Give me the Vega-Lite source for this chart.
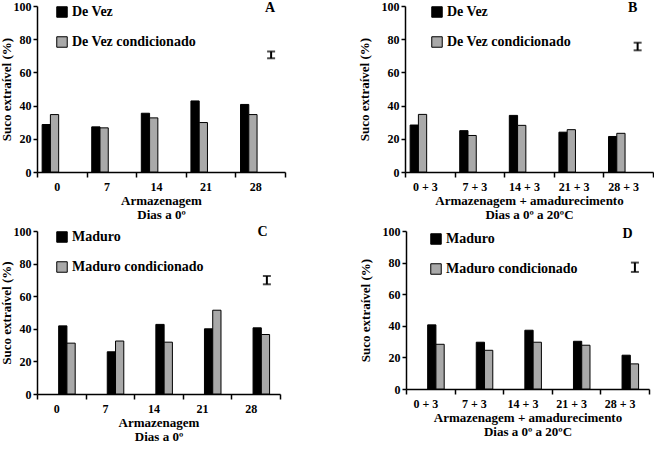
{
  "$schema": "https://vega.github.io/schema/vega-lite/v6.json",
  "padding": {"left": 0, "top": 0, "right": 0, "bottom": 0},
  "background": "white",
  "config": {
    "font": "Liberation Serif, Times New Roman, serif",
    "view": {"stroke": null},
    "axis": {
      "labelFont": "Liberation Serif, Times New Roman, serif", "labelFontWeight": "bold", "labelFontSize": 12, "labelColor": "black", "labelOverlap": false,
      "titleFont": "Liberation Serif, Times New Roman, serif", "titleFontWeight": "bold", "titleFontSize": 13, "titleColor": "black",
      "domainColor": "black", "tickColor": "black", "domainWidth": 1.5, "tickWidth": 1.5, "grid": false
    },
    "axisX": {"titleLineHeight": 14},
    "axisY": {"labelOverlap": false, "tickSize": 4, "labelPadding": 2},
    "axisQuantitative": {"labelOverlap": false},
    "legend": {
      "labelFont": "Liberation Serif, Times New Roman, serif", "labelFontWeight": "bold", "labelFontSize": 14, "labelColor": "black"
    },
    "text": {"font": "Liberation Serif, Times New Roman, serif"}
  },
  "spacing": 3,
  "resolve": {"scale": {"color": "independent"}, "legend": {"color": "independent"}},
  "vconcat": [
    {
      "hconcat": [
        {
          "width": 248, "height": 166,
          "layer": [
            {
              "data": {"values": [
                {"cat": "0", "series": "De Vez", "value": 28.6},
                {"cat": "0", "series": "De Vez condicionado", "value": 34.6},
                {"cat": "7", "series": "De Vez", "value": 27.2},
                {"cat": "7", "series": "De Vez condicionado", "value": 26.6},
                {"cat": "14", "series": "De Vez", "value": 35.4},
                {"cat": "14", "series": "De Vez condicionado", "value": 32.6},
                {"cat": "21", "series": "De Vez", "value": 42.8},
                {"cat": "21", "series": "De Vez condicionado", "value": 29.8},
                {"cat": "28", "series": "De Vez", "value": 40.7},
                {"cat": "28", "series": "De Vez condicionado", "value": 34.6}
              ]},
              "mark": {"type": "bar", "stroke": "black", "strokeWidth": 1},
              "encoding": {
                "x": {"field": "cat", "type": "nominal", "sort": null, "scale": {"paddingInner": 0, "paddingOuter": 0},
                  "axis": {"title": ["Armazenagem", "Dias a 0º"], "labelAngle": 0, "tickBand": "extent", "labelOffset": -5, "tickSize": 5, "labelPadding": 4, "titlePadding": 2}},
                "xOffset": {"field": "series", "type": "nominal", "sort": null, "scale": {"paddingInner": 0, "paddingOuter": 1.19, "align": 0.31}},
                "y": {"field": "value", "type": "quantitative", "scale": {"domain": [0, 100]},
                  "axis": {"title": "Suco extraível (%)", "values": [0, 20, 40, 60, 80, 100], "labelOverlap": false, "titlePadding": 0}},
                "color": {"field": "series", "type": "nominal", "sort": null, "scale": {"range": ["black", "#a9a9a9"]},
                  "legend": {"orient": "none", "legendX": 18, "legendY": -1, "title": null, "symbolType": "square", "symbolSize": 110, "symbolStrokeColor": "black", "symbolStrokeWidth": 1, "rowPadding": 14, "labelOffset": 3}}
              }
            },
            {
              "data": {"values": [{"lx": 4.72, "lo": 68.5, "hi": 72.6, "tx": 4.70, "ty": 98.8, "lab": "A"}]},
              "layer": [
                {"mark": {"type": "rule", "color": "black", "strokeWidth": 2},
                 "encoding": {"x": {"field": "lx", "type": "quantitative", "scale": {"domain": [0, 5]}, "axis": null}, "y": {"field": "lo", "type": "quantitative", "axis": {"title": "Suco extraível (%)", "values": [0, 20, 40, 60, 80, 100], "labelOverlap": false, "titlePadding": 0}}, "y2": {"field": "hi"}}},
                {"mark": {"type": "tick", "orient": "horizontal", "size": 8, "thickness": 2, "color": "black"},
                 "encoding": {"x": {"field": "lx", "type": "quantitative", "scale": {"domain": [0, 5]}, "axis": null}, "y": {"field": "lo", "type": "quantitative", "axis": {"title": "Suco extraível (%)", "values": [0, 20, 40, 60, 80, 100], "labelOverlap": false, "titlePadding": 0}}}},
                {"mark": {"type": "tick", "orient": "horizontal", "size": 8, "thickness": 2, "color": "black"},
                 "encoding": {"x": {"field": "lx", "type": "quantitative", "scale": {"domain": [0, 5]}, "axis": null}, "y": {"field": "hi", "type": "quantitative", "axis": {"title": "Suco extraível (%)", "values": [0, 20, 40, 60, 80, 100], "labelOverlap": false, "titlePadding": 0}}}},
                {"mark": {"type": "text", "fontSize": 14, "fontWeight": "bold", "color": "black"},
                 "encoding": {"x": {"field": "tx", "type": "quantitative", "scale": {"domain": [0, 5]}, "axis": null}, "y": {"field": "ty", "type": "quantitative", "axis": {"title": "Suco extraível (%)", "values": [0, 20, 40, 60, 80, 100], "labelOverlap": false, "titlePadding": 0}}, "text": {"field": "lab"}}}
              ],
              "resolve": {"scale": {"x": "independent"}}
            }
          ],
          "resolve": {"scale": {"x": "independent"}}
        },
        {
          "width": 248, "height": 166,
          "layer": [
            {
              "data": {"values": [
                {"cat": "0 + 3", "series": "De Vez", "value": 28.3},
                {"cat": "0 + 3", "series": "De Vez condicionado", "value": 34.7},
                {"cat": "7 + 3", "series": "De Vez", "value": 24.9},
                {"cat": "7 + 3", "series": "De Vez condicionado", "value": 22.0},
                {"cat": "14 + 3", "series": "De Vez", "value": 34.1},
                {"cat": "14 + 3", "series": "De Vez condicionado", "value": 28.1},
                {"cat": "21 + 3", "series": "De Vez", "value": 24.0},
                {"cat": "21 + 3", "series": "De Vez condicionado", "value": 25.5},
                {"cat": "28 + 3", "series": "De Vez", "value": 21.4},
                {"cat": "28 + 3", "series": "De Vez condicionado", "value": 23.3}
              ]},
              "mark": {"type": "bar", "stroke": "black", "strokeWidth": 1},
              "encoding": {
                "x": {"field": "cat", "type": "nominal", "sort": null, "scale": {"paddingInner": 0, "paddingOuter": 0},
                  "axis": {"title": ["Armazenagem + amadurecimento", "Dias a 0º a 20ºC"], "labelAngle": 0, "tickBand": "extent", "labelOffset": -5, "tickSize": 5, "labelPadding": 4, "titlePadding": 2}},
                "xOffset": {"field": "series", "type": "nominal", "sort": null, "scale": {"paddingInner": 0, "paddingOuter": 1.19, "align": 0.31}},
                "y": {"field": "value", "type": "quantitative", "scale": {"domain": [0, 100]},
                  "axis": {"title": "Suco extraível (%)", "values": [0, 20, 40, 60, 80, 100], "labelOverlap": false, "titlePadding": 10}},
                "color": {"field": "series", "type": "nominal", "sort": null, "scale": {"range": ["black", "#a9a9a9"]},
                  "legend": {"orient": "none", "legendX": 25, "legendY": -1, "title": null, "symbolType": "square", "symbolSize": 110, "symbolStrokeColor": "black", "symbolStrokeWidth": 1, "rowPadding": 14, "labelOffset": 3}}
              }
            },
            {
              "data": {"values": [{"lx": 4.69, "lo": 73.3, "hi": 77.9, "tx": 4.59, "ty": 98.8, "lab": "B"}]},
              "layer": [
                {"mark": {"type": "rule", "color": "black", "strokeWidth": 2},
                 "encoding": {"x": {"field": "lx", "type": "quantitative", "scale": {"domain": [0, 5]}, "axis": null}, "y": {"field": "lo", "type": "quantitative", "axis": {"title": "Suco extraível (%)", "values": [0, 20, 40, 60, 80, 100], "labelOverlap": false, "titlePadding": 10}}, "y2": {"field": "hi"}}},
                {"mark": {"type": "tick", "orient": "horizontal", "size": 8, "thickness": 2, "color": "black"},
                 "encoding": {"x": {"field": "lx", "type": "quantitative", "scale": {"domain": [0, 5]}, "axis": null}, "y": {"field": "lo", "type": "quantitative", "axis": {"title": "Suco extraível (%)", "values": [0, 20, 40, 60, 80, 100], "labelOverlap": false, "titlePadding": 10}}}},
                {"mark": {"type": "tick", "orient": "horizontal", "size": 8, "thickness": 2, "color": "black"},
                 "encoding": {"x": {"field": "lx", "type": "quantitative", "scale": {"domain": [0, 5]}, "axis": null}, "y": {"field": "hi", "type": "quantitative", "axis": {"title": "Suco extraível (%)", "values": [0, 20, 40, 60, 80, 100], "labelOverlap": false, "titlePadding": 10}}}},
                {"mark": {"type": "text", "fontSize": 14, "fontWeight": "bold", "color": "black"},
                 "encoding": {"x": {"field": "tx", "type": "quantitative", "scale": {"domain": [0, 5]}, "axis": null}, "y": {"field": "ty", "type": "quantitative", "axis": {"title": "Suco extraível (%)", "values": [0, 20, 40, 60, 80, 100], "labelOverlap": false, "titlePadding": 10}}, "text": {"field": "lab"}}}
              ],
              "resolve": {"scale": {"x": "independent"}}
            }
          ],
          "resolve": {"scale": {"x": "independent"}}
        }
      ],
      "spacing": 72,
      "resolve": {"scale": {"color": "independent"}, "legend": {"color": "independent"}}
    },
    {
      "hconcat": [
        {
          "width": 243, "height": 163,
          "layer": [
            {
              "data": {"values": [
                {"cat": "0", "series": "Maduro", "value": 41.8},
                {"cat": "0", "series": "Maduro condicionado", "value": 31.2},
                {"cat": "7", "series": "Maduro", "value": 25.9},
                {"cat": "7", "series": "Maduro condicionado", "value": 32.5},
                {"cat": "14", "series": "Maduro", "value": 42.7},
                {"cat": "14", "series": "Maduro condicionado", "value": 31.8},
                {"cat": "21", "series": "Maduro", "value": 40.0},
                {"cat": "21", "series": "Maduro condicionado", "value": 51.4},
                {"cat": "28", "series": "Maduro", "value": 40.6},
                {"cat": "28", "series": "Maduro condicionado", "value": 36.5}
              ]},
              "mark": {"type": "bar", "stroke": "black", "strokeWidth": 1},
              "encoding": {
                "x": {"field": "cat", "type": "nominal", "sort": null, "scale": {"paddingInner": 0, "paddingOuter": 0},
                  "axis": {"title": ["Armazenagem", "Dias a 0º"], "labelAngle": 0, "tickBand": "extent", "labelOffset": -5, "tickSize": 5, "labelPadding": 4, "titlePadding": 2}},
                "xOffset": {"field": "series", "type": "nominal", "sort": null, "scale": {"paddingInner": 0, "paddingOuter": 1.19, "align": 0.31}},
                "y": {"field": "value", "type": "quantitative", "scale": {"domain": [0, 100]},
                  "axis": {"title": "Suco extraível (%)", "values": [0, 20, 40, 60, 80, 100], "labelOverlap": false, "titlePadding": 0}},
                "color": {"field": "series", "type": "nominal", "sort": null, "scale": {"range": ["black", "#a9a9a9"]},
                  "legend": {"orient": "none", "legendX": 18, "legendY": -1, "title": null, "symbolType": "square", "symbolSize": 110, "symbolStrokeColor": "black", "symbolStrokeWidth": 1, "rowPadding": 14, "labelOffset": 3}}
              }
            },
            {
              "data": {"values": [{"lx": 4.73, "lo": 67.3, "hi": 72.4, "tx": 4.64, "ty": 99.6, "lab": "C"}]},
              "layer": [
                {"mark": {"type": "rule", "color": "black", "strokeWidth": 2},
                 "encoding": {"x": {"field": "lx", "type": "quantitative", "scale": {"domain": [0, 5]}, "axis": null}, "y": {"field": "lo", "type": "quantitative", "axis": {"title": "Suco extraível (%)", "values": [0, 20, 40, 60, 80, 100], "labelOverlap": false, "titlePadding": 0}}, "y2": {"field": "hi"}}},
                {"mark": {"type": "tick", "orient": "horizontal", "size": 8, "thickness": 2, "color": "black"},
                 "encoding": {"x": {"field": "lx", "type": "quantitative", "scale": {"domain": [0, 5]}, "axis": null}, "y": {"field": "lo", "type": "quantitative", "axis": {"title": "Suco extraível (%)", "values": [0, 20, 40, 60, 80, 100], "labelOverlap": false, "titlePadding": 0}}}},
                {"mark": {"type": "tick", "orient": "horizontal", "size": 8, "thickness": 2, "color": "black"},
                 "encoding": {"x": {"field": "lx", "type": "quantitative", "scale": {"domain": [0, 5]}, "axis": null}, "y": {"field": "hi", "type": "quantitative", "axis": {"title": "Suco extraível (%)", "values": [0, 20, 40, 60, 80, 100], "labelOverlap": false, "titlePadding": 0}}}},
                {"mark": {"type": "text", "fontSize": 14, "fontWeight": "bold", "color": "black"},
                 "encoding": {"x": {"field": "tx", "type": "quantitative", "scale": {"domain": [0, 5]}, "axis": null}, "y": {"field": "ty", "type": "quantitative", "axis": {"title": "Suco extraível (%)", "values": [0, 20, 40, 60, 80, 100], "labelOverlap": false, "titlePadding": 0}}, "text": {"field": "lab"}}}
              ],
              "resolve": {"scale": {"x": "independent"}}
            }
          ],
          "resolve": {"scale": {"x": "independent"}}
        },
        {
          "width": 243, "height": 158,
          "layer": [
            {
              "data": {"values": [
                {"cat": "0 + 3", "series": "Maduro", "value": 40.6},
                {"cat": "0 + 3", "series": "Maduro condicionado", "value": 28.3},
                {"cat": "7 + 3", "series": "Maduro", "value": 29.6},
                {"cat": "7 + 3", "series": "Maduro condicionado", "value": 24.5},
                {"cat": "14 + 3", "series": "Maduro", "value": 37.2},
                {"cat": "14 + 3", "series": "Maduro condicionado", "value": 29.6},
                {"cat": "21 + 3", "series": "Maduro", "value": 30.2},
                {"cat": "21 + 3", "series": "Maduro condicionado", "value": 27.7},
                {"cat": "28 + 3", "series": "Maduro", "value": 21.4},
                {"cat": "28 + 3", "series": "Maduro condicionado", "value": 15.9}
              ]},
              "mark": {"type": "bar", "stroke": "black", "strokeWidth": 1},
              "encoding": {
                "x": {"field": "cat", "type": "nominal", "sort": null, "scale": {"paddingInner": 0, "paddingOuter": 0},
                  "axis": {"title": ["Armazenagem + amadurecimento", "Dias a 0º a 20ºC"], "labelAngle": 0, "tickBand": "extent", "labelOffset": -5, "tickSize": 5, "labelPadding": 4, "titlePadding": 2}},
                "xOffset": {"field": "series", "type": "nominal", "sort": null, "scale": {"paddingInner": 0, "paddingOuter": 1.19, "align": 0.31}},
                "y": {"field": "value", "type": "quantitative", "scale": {"domain": [0, 100]},
                  "axis": {"title": "Suco extraível (%)", "values": [0, 20, 40, 60, 80, 100], "labelOverlap": false, "titlePadding": 10}},
                "color": {"field": "series", "type": "nominal", "sort": null, "scale": {"range": ["black", "#a9a9a9"]},
                  "legend": {"orient": "none", "legendX": 23, "legendY": 1, "title": null, "symbolType": "square", "symbolSize": 110, "symbolStrokeColor": "black", "symbolStrokeWidth": 1, "rowPadding": 14, "labelOffset": 3}}
              }
            },
            {
              "data": {"values": [{"lx": 4.71, "lo": 74.1, "hi": 80.0, "tx": 4.56, "ty": 97.9, "lab": "D"}]},
              "layer": [
                {"mark": {"type": "rule", "color": "black", "strokeWidth": 2},
                 "encoding": {"x": {"field": "lx", "type": "quantitative", "scale": {"domain": [0, 5]}, "axis": null}, "y": {"field": "lo", "type": "quantitative", "axis": {"title": "Suco extraível (%)", "values": [0, 20, 40, 60, 80, 100], "labelOverlap": false, "titlePadding": 10}}, "y2": {"field": "hi"}}},
                {"mark": {"type": "tick", "orient": "horizontal", "size": 8, "thickness": 2, "color": "black"},
                 "encoding": {"x": {"field": "lx", "type": "quantitative", "scale": {"domain": [0, 5]}, "axis": null}, "y": {"field": "lo", "type": "quantitative", "axis": {"title": "Suco extraível (%)", "values": [0, 20, 40, 60, 80, 100], "labelOverlap": false, "titlePadding": 10}}}},
                {"mark": {"type": "tick", "orient": "horizontal", "size": 8, "thickness": 2, "color": "black"},
                 "encoding": {"x": {"field": "lx", "type": "quantitative", "scale": {"domain": [0, 5]}, "axis": null}, "y": {"field": "hi", "type": "quantitative", "axis": {"title": "Suco extraível (%)", "values": [0, 20, 40, 60, 80, 100], "labelOverlap": false, "titlePadding": 10}}}},
                {"mark": {"type": "text", "fontSize": 14, "fontWeight": "bold", "color": "black"},
                 "encoding": {"x": {"field": "tx", "type": "quantitative", "scale": {"domain": [0, 5]}, "axis": null}, "y": {"field": "ty", "type": "quantitative", "axis": {"title": "Suco extraível (%)", "values": [0, 20, 40, 60, 80, 100], "labelOverlap": false, "titlePadding": 10}}, "text": {"field": "lab"}}}
              ],
              "resolve": {"scale": {"x": "independent"}}
            }
          ],
          "resolve": {"scale": {"x": "independent"}}
        }
      ],
      "spacing": 78,
      "resolve": {"scale": {"color": "independent"}, "legend": {"color": "independent"}}
    }
  ]
}
